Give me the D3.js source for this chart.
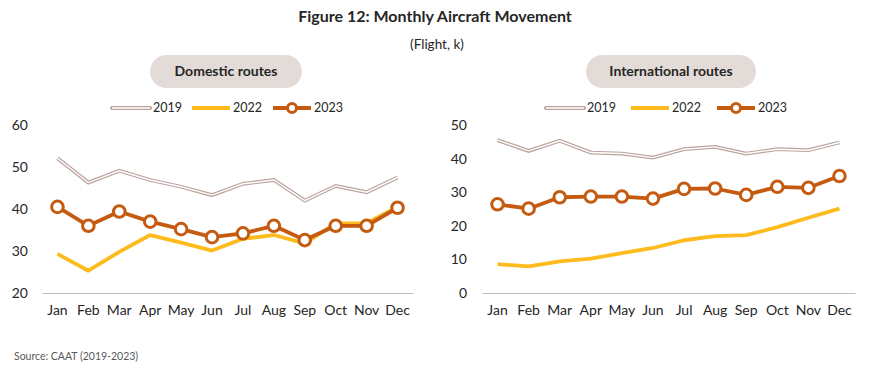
<!DOCTYPE html>
<html>
<head>
<meta charset="utf-8">
<script src="https://cdn.jsdelivr.net/npm/d3@7"></script>
<style>
  body { margin: 0; background: #fff; }
  text { font-family: Lato, "Open Sans", sans-serif; fill: #262626; }
</style>
</head>
<body>
<div id="chart"></div>
<script>
(function() {
  // data (thousand flights)
  var months = ["Jan", "Feb", "Mar", "Apr", "May", "Jun", "Jul", "Aug", "Sep", "Oct", "Nov", "Dec"];
  var seriesNames = ["2019", "2022", "2023"];

  var domestic2019 = [52.1, 46.3, 49.1, 46.9, 45.3, 43.3, 46.0, 46.9, 42.0, 45.5, 44.0, 47.5];
  var domestic2022 = [29.3, 25.3, 29.8, 33.8, 32.0, 30.1, 32.9, 33.8, 31.8, 36.6, 36.6, 40.5];
  var domestic2023 = [40.5, 36.0, 39.4, 37.0, 35.2, 33.3, 34.2, 36.0, 32.6, 36.0, 36.0, 40.3];

  var intl2019 = [45.5, 42.3, 45.3, 41.8, 41.5, 40.3, 42.8, 43.5, 41.5, 42.8, 42.5, 44.8];
  var intl2022 = [8.6, 7.9, 9.4, 10.2, 11.9, 13.4, 15.7, 16.9, 17.2, 19.6, 22.4, 25.1];
  var intl2023 = [26.4, 25.1, 28.5, 28.7, 28.7, 28.1, 31.0, 31.1, 29.2, 31.6, 31.3, 34.8];

  var domesticTicks = [20, 30, 40, 50, 60];
  var intlTicks = [0, 10, 20, 30, 40, 50];

  var colors = { "2019": "#bba39e", "2022": "#fdbb1e", "2023": "#c55a11" };

  var width = 870, height = 373;

  var svg = d3.select("#chart")
    .append("svg")
    .attr("width", width)
    .attr("height", height);

  // titles
  svg.append("text")
    .attr("x", 435).attr("y", 22)
    .attr("text-anchor", "middle")
    .attr("font-size", 16).attr("font-weight", "bold")
    .text("Figure 12: Monthly Aircraft Movement");

  svg.append("text")
    .attr("x", 437).attr("y", 49)
    .attr("text-anchor", "middle")
    .attr("font-size", 13.5)
    .text("(Flight, k)");

  svg.append("text")
    .attr("x", 14).attr("y", 360)
    .attr("font-size", 10.5)
    .style("fill", "#595959")
    .text("Source: CAAT (2019-2023)");

  function drawPanel(opts) {
    var g = svg.append("g");

    // pill header
    g.append("rect")
      .attr("x", opts.pill[0]).attr("y", 55)
      .attr("width", opts.pill[1] - opts.pill[0]).attr("height", 33)
      .attr("rx", 16.5)
      .attr("fill", "#e3dbd8");
    g.append("text")
      .attr("x", (opts.pill[0] + opts.pill[1]) / 2).attr("y", 76)
      .attr("text-anchor", "middle")
      .attr("font-size", 14).attr("font-weight", "bold")
      .text(opts.title);

    var xScale = d3.scaleBand()
      .domain(months)
      .range([opts.left, opts.right]);

    var yScale = d3.scaleLinear()
      .domain(opts.domain)
      .range([293, 125]);

    // x axis
    var xAxis = d3.axisBottom(xScale).tickSize(0).tickPadding(12);
    var xg = g.append("g")
      .attr("transform", "translate(0,293)")
      .call(xAxis);
    xg.select(".domain").attr("stroke", "#bfbfbf").attr("stroke-width", 1.2);
    xg.selectAll("text")
      .attr("font-size", 14)
      .style("font-family", "Lato, 'Open Sans', sans-serif")
      .style("fill", "#262626");

    // y axis labels only
    var yAxis = d3.axisLeft(yScale).tickValues(opts.ticks).tickSize(0).tickPadding(opts.labelGap);
    var yg = g.append("g")
      .attr("transform", "translate(" + opts.left + ",0)")
      .call(yAxis);
    yg.select(".domain").remove();
    yg.selectAll("text")
      .attr("font-size", 14)
      .style("font-family", "Lato, 'Open Sans', sans-serif")
      .style("fill", "#262626");

    var cx = function(d, i) { return xScale(months[i]) + xScale.bandwidth() / 2; };
    var line = d3.line()
      .x(cx)
      .y(function(d) { return yScale(d); });

    // 2019: double (compound) line
    g.append("path").datum(opts.s2019)
      .attr("d", line).attr("fill", "none")
      .attr("stroke", colors["2019"]).attr("stroke-width", 3.8)
      .attr("stroke-linejoin", "miter");
    g.append("path").datum(opts.s2019)
      .attr("d", line).attr("fill", "none")
      .attr("stroke", "#fff").attr("stroke-width", 1.4)
      .attr("stroke-linejoin", "miter");

    // 2022
    g.append("path").datum(opts.s2022)
      .attr("d", line).attr("fill", "none")
      .attr("stroke", colors["2022"]).attr("stroke-width", 3.8)
      .attr("stroke-linejoin", "round");

    // 2023 with markers
    g.append("path").datum(opts.s2023)
      .attr("d", line).attr("fill", "none")
      .attr("stroke", colors["2023"]).attr("stroke-width", 3.8)
      .attr("stroke-linejoin", "round");
    g.selectAll(".dot").data(opts.s2023)
      .enter().append("circle")
      .attr("class", "dot")
      .attr("cx", cx)
      .attr("cy", function(d) { return yScale(d); })
      .attr("r", 5.8)
      .attr("fill", "#fff")
      .attr("stroke", colors["2023"])
      .attr("stroke-width", 3);

    // legend
    var lg = g.append("g").attr("transform", "translate(0,108)");
    seriesNames.forEach(function(name, i) {
      var x0 = opts.legendX[i];
      if (name === "2019") {
        lg.append("line").attr("x1", x0).attr("x2", x0 + 38)
          .attr("stroke", colors[name]).attr("stroke-width", 4).attr("stroke-linecap", "round");
        lg.append("line").attr("x1", x0).attr("x2", x0 + 38)
          .attr("stroke", "#fff").attr("stroke-width", 1.5);
      } else {
        lg.append("line").attr("x1", x0).attr("x2", x0 + 38)
          .attr("stroke", colors[name]).attr("stroke-width", 3.8);
      }
      if (name === "2023") {
        lg.append("circle").attr("cx", x0 + 19).attr("cy", 0).attr("r", 4.5)
          .attr("fill", "#fff").attr("stroke", colors[name]).attr("stroke-width", 3);
      }
      lg.append("text")
        .attr("x", x0 + 41).attr("y", 0).attr("dy", "0.35em")
        .attr("font-size", 12.5)
        .text(name);
    });
  }

  drawPanel({
    title: "Domestic routes",
    pill: [150, 302],
    left: 42, right: 413,
    domain: [20, 60],
    ticks: domesticTicks,
    labelGap: 14,
    legendX: [112, 192, 273],
    s2019: domestic2019, s2022: domestic2022, s2023: domestic2023
  });

  drawPanel({
    title: "International routes",
    pill: [586, 756],
    left: 482, right: 855,
    domain: [0, 50],
    ticks: intlTicks,
    labelGap: 15,
    legendX: [546, 631, 717],
    s2019: intl2019, s2022: intl2022, s2023: intl2023
  });
})();
</script>
</body>
</html>
